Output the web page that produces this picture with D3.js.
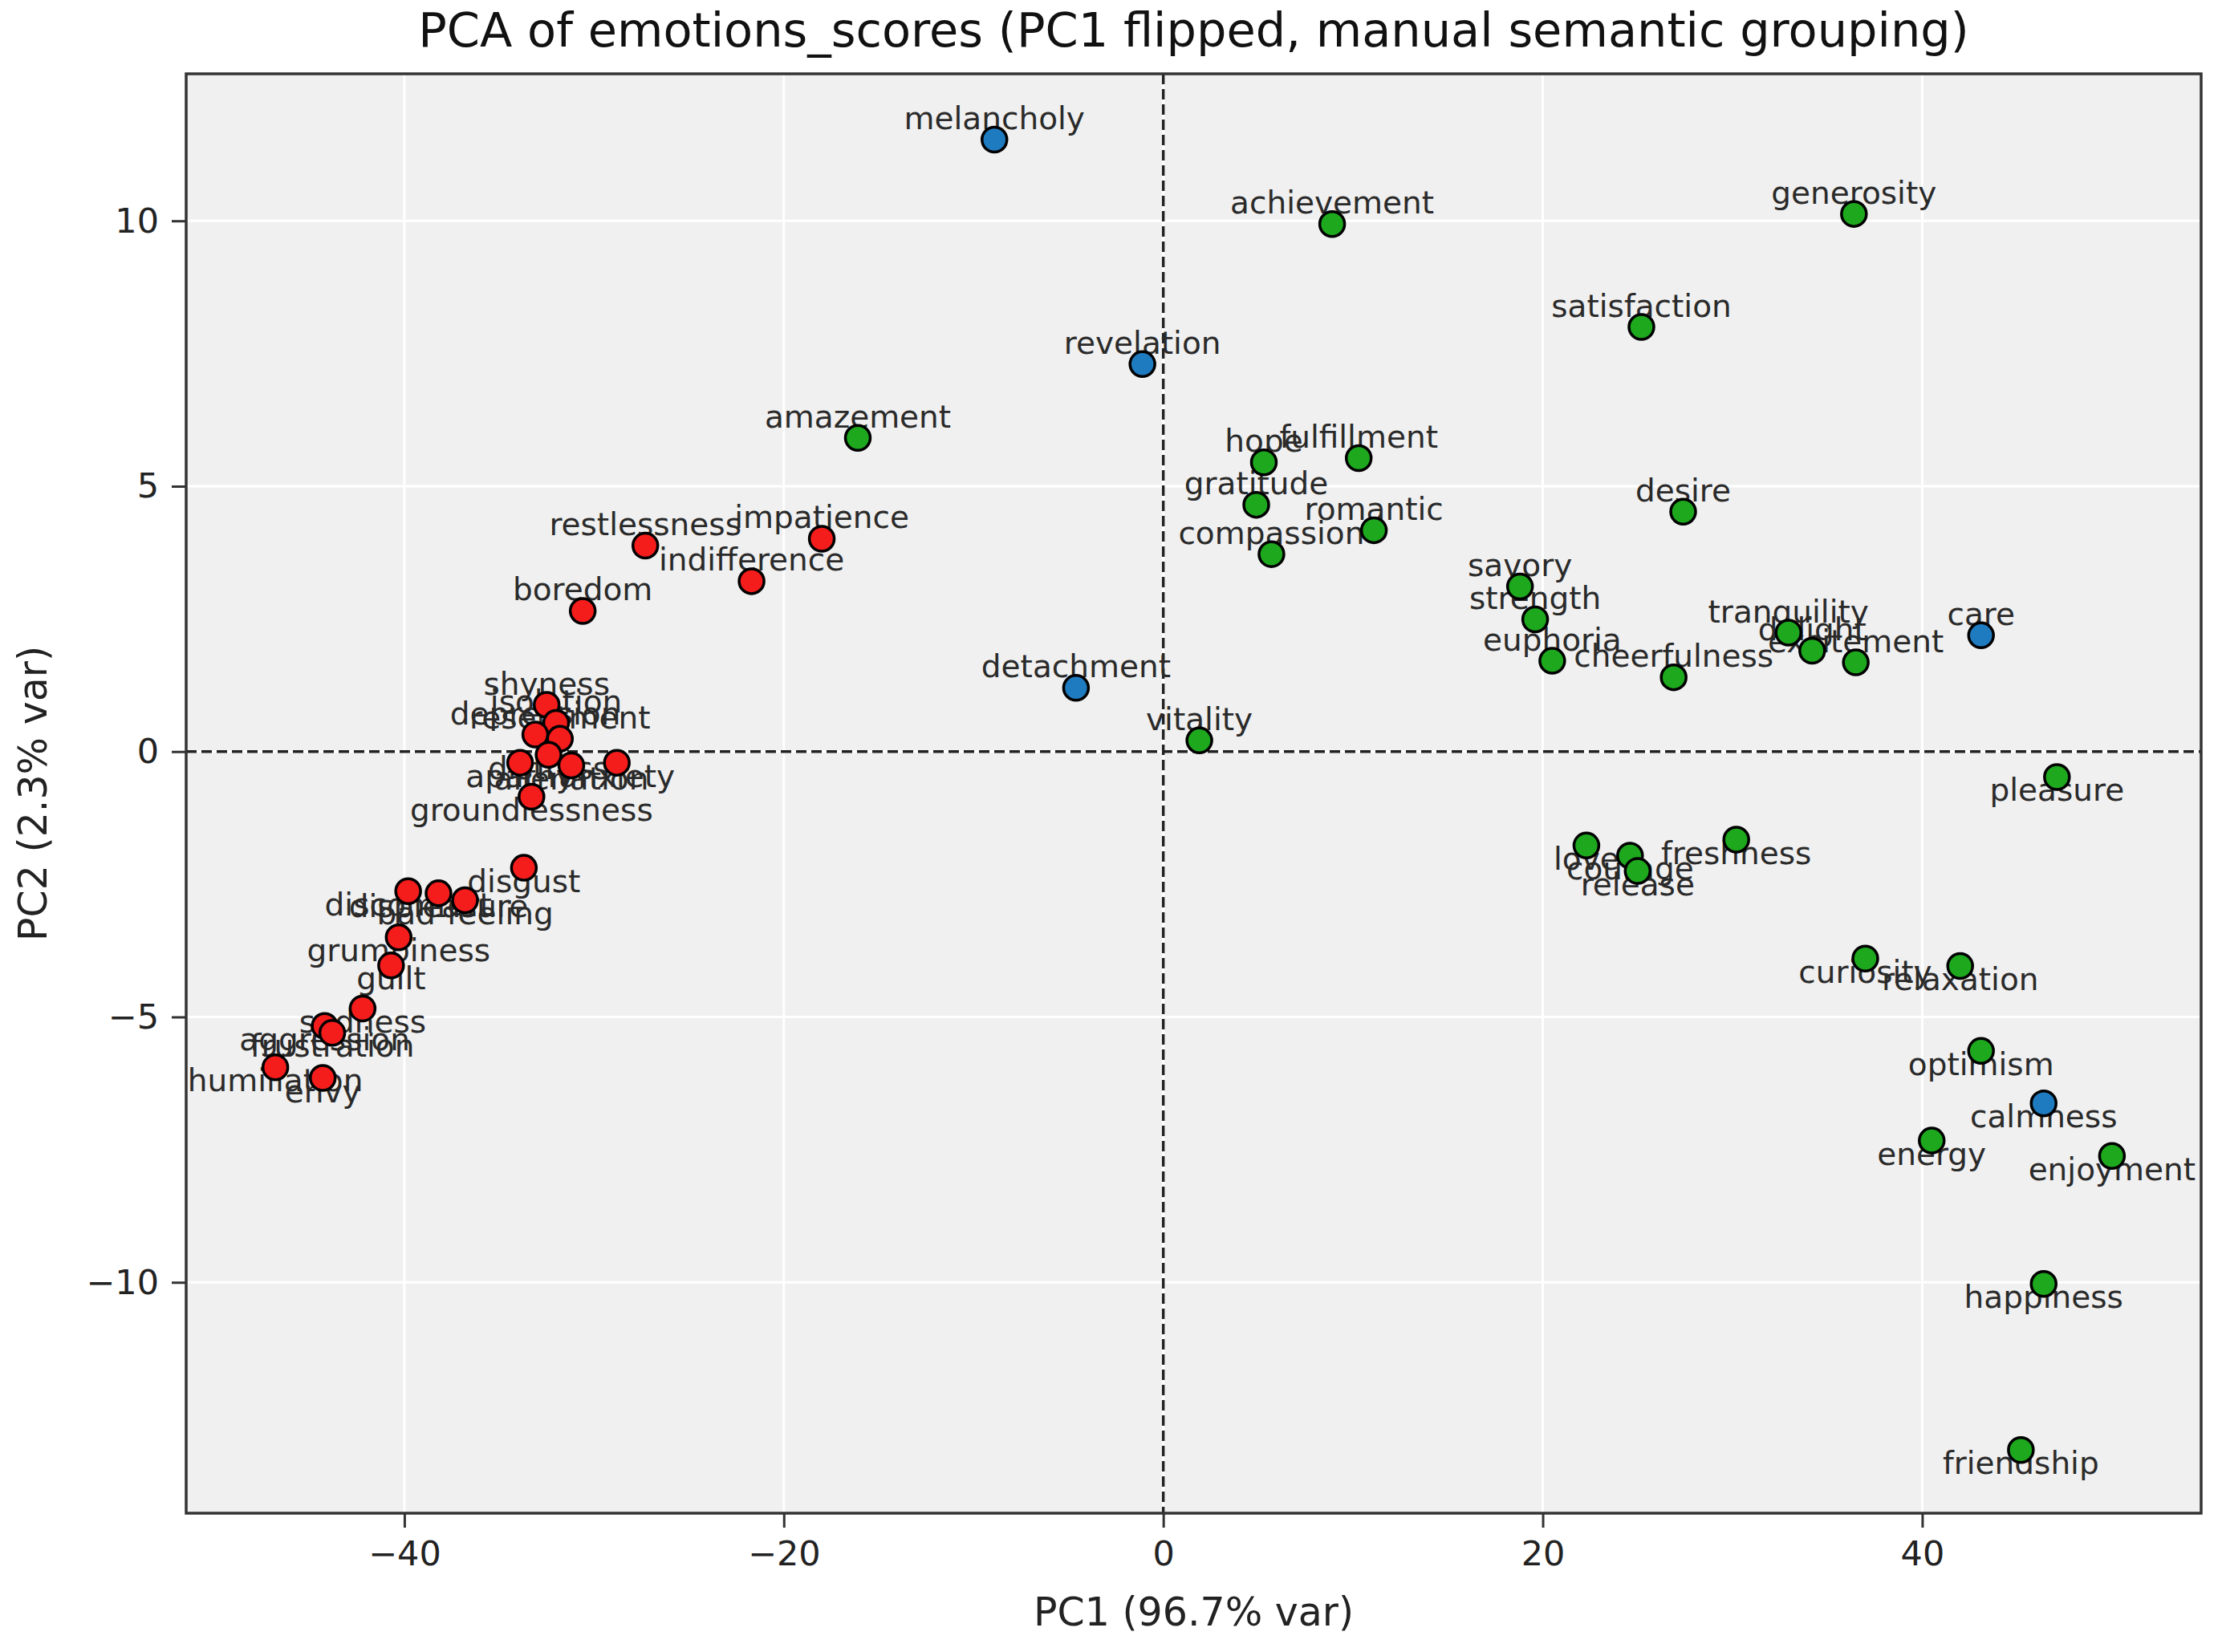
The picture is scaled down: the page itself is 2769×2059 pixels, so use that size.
<!DOCTYPE html>
<html>
<head>
<meta charset="utf-8">
<script src="https://cdn.jsdelivr.net/npm/d3@7"></script>
<style>
  body { margin: 0; background: #fff; }
  text { font-family: "DejaVu Sans", sans-serif; }
</style>
</head>
<body>
<div id="chart"></div>
<script>
// emotion labels, PC coordinates and manual group
const names = [
  'melancholy', 'revelation', 'detachment', 'care', 'calmness',
  'achievement', 'generosity', 'satisfaction', 'amazement', 'hope', 'fulfillment',
  'gratitude', 'romantic', 'compassion', 'desire', 'savory', 'strength', 'euphoria',
  'cheerfulness', 'tranquility', 'delight', 'excitement', 'vitality', 'pleasure',
  'love', 'courage', 'release', 'freshness', 'curiosity', 'relaxation', 'optimism',
  'energy', 'enjoyment', 'happiness', 'friendship',
  'restlessness', 'impatience', 'indifference', 'boredom', 'shyness', 'isolation',
  'depression', 'resentment', 'distress', 'apathy', 'alienation', 'anxiety',
  'groundlessness', 'disgust', 'discomfort', 'displeasure', 'bad-feeling',
  'grumpiness', 'guilt', 'sadness', 'aggression', 'frustration', 'humiliation', 'envy'
];
const pc1 = [
  -8.9, -1.1, -4.6, 43.1, 46.4,
  8.9, 36.4, 25.2, -16.1, 5.3, 10.3,
  4.9, 11.1, 5.7, 27.4, 18.8, 19.6, 20.5,
  26.9, 32.95, 34.2, 36.5, 1.9, 47.1,
  22.3, 24.6, 25.0, 30.2, 37.0, 42.0, 43.1,
  40.5, 50.0, 46.4, 45.2,
  -27.3, -18.0, -21.7, -30.6, -32.5, -32.0,
  -33.1, -31.8, -32.4, -33.9, -31.2, -28.8,
  -33.3, -33.7, -39.8, -38.2, -36.8,
  -40.3, -40.7, -42.2, -44.2, -43.8, -46.8, -44.3
];
const pc2 = [
  11.53, 7.3, 1.2, 2.19, -6.63,
  9.94, 10.13, 8.0, 5.91, 5.45, 5.53,
  4.65, 4.17, 3.72, 4.52, 3.11, 2.49, 1.71,
  1.40, 2.24, 1.9, 1.68, 0.21, -0.48,
  -1.77, -1.96, -2.25, -1.66, -3.9, -4.04, -5.64,
  -7.33, -7.62, -10.03, -13.16,
  3.88, 4.01, 3.21, 2.65, 0.88, 0.54,
  0.32, 0.24, -0.06, -0.21, -0.26, -0.21,
  -0.85, -2.19, -2.63, -2.67, -2.80,
  -3.5, -4.03, -4.84, -5.17, -5.3, -5.95, -6.15
];
const groups = [
  'neutral', 'neutral', 'neutral', 'neutral', 'neutral',
  'positive', 'positive', 'positive', 'positive', 'positive', 'positive',
  'positive', 'positive', 'positive', 'positive', 'positive', 'positive', 'positive',
  'positive', 'positive', 'positive', 'positive', 'positive', 'positive',
  'positive', 'positive', 'positive', 'positive', 'positive', 'positive', 'positive',
  'positive', 'positive', 'positive', 'positive',
  'negative', 'negative', 'negative', 'negative', 'negative', 'negative',
  'negative', 'negative', 'negative', 'negative', 'negative', 'negative',
  'negative', 'negative', 'negative', 'negative', 'negative',
  'negative', 'negative', 'negative', 'negative', 'negative', 'negative', 'negative'
];
const xTicks = [-40, -20, 0, 20, 40];
const yTicks = [-10, -5, 0, 5, 10];

const groupColor = { positive: '#1ea81e', negative: '#f51c1c', neutral: '#1f7bc0' };

const data = names.map((n, i) => ({ name: n, x: pc1[i], y: pc2[i], group: groups[i] }));

const W = 2769, H = 2059;
const margin = { top: 92, right: 26, bottom: 173, left: 232 };
const width = W - margin.left - margin.right;
const height = H - margin.top - margin.bottom;

const svg = d3.select('#chart').append('svg')
    .attr('width', W)
    .attr('height', H);

const chart = svg.append('g')
    .attr('transform', `translate(${margin.left},${margin.top})`);

const xScale = d3.scaleLinear().domain([-51.5, 54.7]).range([0, width]);
const yScale = d3.scaleLinear().domain([-14.35, 12.77]).range([height, 0]);

// axes background
chart.append('rect')
    .attr('width', width)
    .attr('height', height)
    .attr('fill', '#f0f0f0');

// white grid
chart.append('g').selectAll('line')
    .data(xTicks)
  .join('line')
    .attr('x1', d => xScale(d)).attr('x2', d => xScale(d))
    .attr('y1', 0).attr('y2', height)
    .attr('stroke', '#fff').attr('stroke-width', 3);
chart.append('g').selectAll('line')
    .data(yTicks)
  .join('line')
    .attr('y1', d => yScale(d)).attr('y2', d => yScale(d))
    .attr('x1', 0).attr('x2', width)
    .attr('stroke', '#fff').attr('stroke-width', 3);

// dashed zero lines
chart.append('line')
    .attr('x1', xScale(0)).attr('x2', xScale(0))
    .attr('y1', 0).attr('y2', height)
    .attr('stroke', '#222').attr('stroke-width', 3.4)
    .attr('stroke-dasharray', '13,6');
chart.append('line')
    .attr('x1', 0).attr('x2', width)
    .attr('y1', yScale(0)).attr('y2', yScale(0))
    .attr('stroke', '#222').attr('stroke-width', 3.4)
    .attr('stroke-dasharray', '13,6');

// labels: above the point when PC2 >= 0, below otherwise
chart.append('g').selectAll('text')
    .data(data)
  .join('text')
    .attr('x', d => xScale(d.x))
    .attr('y', d => d.y >= 0 ? yScale(d.y) - 13 : yScale(d.y) + 30)
    .attr('text-anchor', 'middle')
    .attr('font-size', 39)
    .attr('fill', '#2a2a2a')
    .text(d => d.name);

// points
chart.append('g').selectAll('circle')
    .data(data)
  .join('circle')
    .attr('cx', d => xScale(d.x))
    .attr('cy', d => yScale(d.y))
    .attr('r', 15.5)
    .attr('fill', d => groupColor[d.group])
    .attr('stroke', '#000')
    .attr('stroke-width', 3.5);

// frame
chart.append('rect')
    .attr('width', width)
    .attr('height', height)
    .attr('fill', 'none')
    .attr('stroke', '#333')
    .attr('stroke-width', 3.5);

// axes
const xAxis = chart.append('g')
    .attr('transform', `translate(0,${height})`)
    .call(d3.axisBottom(xScale).tickValues(xTicks).tickSize(18).tickPadding(16));
const yAxis = chart.append('g')
    .call(d3.axisLeft(yScale).tickValues(yTicks).tickSize(18).tickPadding(16));
[xAxis, yAxis].forEach(a => {
  a.select('.domain').remove();
  a.selectAll('.tick line').attr('stroke', '#333').attr('stroke-width', 3);
  a.selectAll('.tick text')
      .attr('font-size', 43)
      .attr('fill', '#222')
      .style('font-family', '"DejaVu Sans", sans-serif');
});

// titles
svg.append('text')
    .attr('x', margin.left + width / 2)
    .attr('y', 58)
    .attr('text-anchor', 'middle')
    .attr('font-size', 59)
    .attr('fill', '#111')
    .text('PCA of emotions_scores (PC1 flipped, manual semantic grouping)');

svg.append('text')
    .attr('x', margin.left + width / 2)
    .attr('y', 2026)
    .attr('text-anchor', 'middle')
    .attr('font-size', 49)
    .attr('fill', '#222')
    .text('PC1 (96.7% var)');

svg.append('text')
    .attr('transform', `translate(58,${margin.top + height / 2}) rotate(-90)`)
    .attr('text-anchor', 'middle')
    .attr('font-size', 49)
    .attr('fill', '#222')
    .text('PC2 (2.3% var)');
</script>
</body>
</html>
